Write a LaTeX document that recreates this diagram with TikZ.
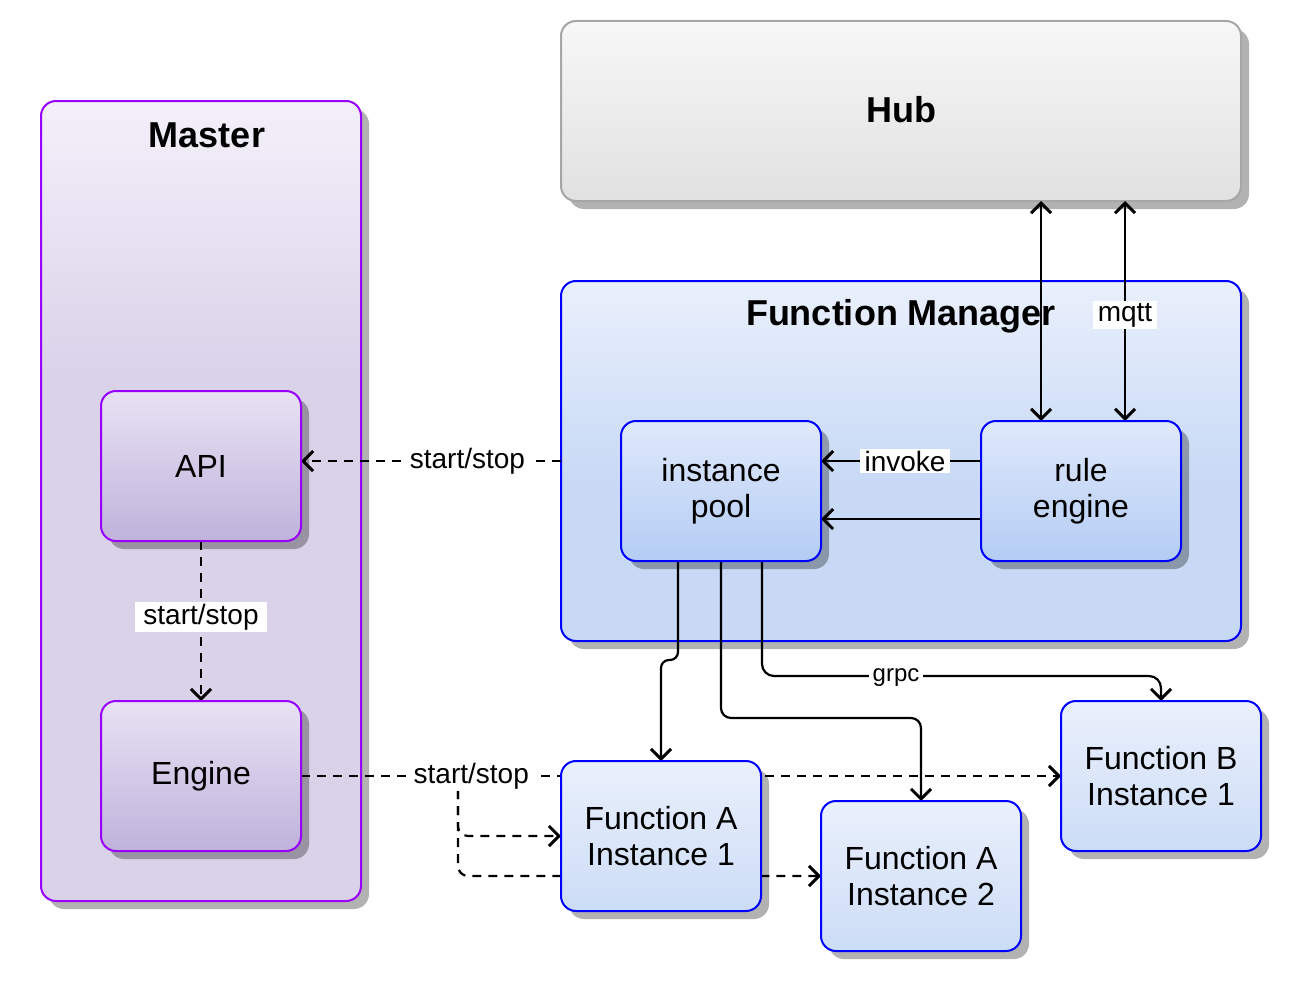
\documentclass[tikz,border=0pt]{standalone}
\usepackage{fontspec}
\setmainfont{Liberation Sans}
\usetikzlibrary{arrows.meta,shadows,calc}
\pgfdeclarelayer{bg}
\pgfdeclarelayer{edges}
\pgfsetlayers{bg,edges,main}
\definecolor{mpurple}{HTML}{9900FF}
\definecolor{mtop}{HTML}{F3F0FA}
\definecolor{mbot}{HTML}{DAD2E9}
\definecolor{atop}{HTML}{E8E2F4}
\definecolor{abot}{HTML}{C0B2DB}
\definecolor{mblue}{HTML}{0000FF}
\definecolor{ftop}{HTML}{EAF0FC}
\definecolor{fbot}{HTML}{C7D9F5}
\definecolor{ptop}{HTML}{DFE9FB}
\definecolor{pbot}{HTML}{B4CCF4}
\definecolor{itop}{HTML}{EAF0FC}
\definecolor{ibot}{HTML}{CCDCF6}
\definecolor{hgray}{HTML}{A6A6A6}
\definecolor{htop}{HTML}{F7F7F7}
\definecolor{hbot}{HTML}{E1E1E1}
\pgfdeclareverticalshading{mastershade}{100bp}{color(0bp)=(mbot); color(58bp)=(mbot); color(75bp)=(mtop); color(100bp)=(mtop)}
\pgfdeclareverticalshading{fmshade}{100bp}{color(0bp)=(fbot); color(47bp)=(fbot); color(75bp)=(ftop); color(100bp)=(ftop)}
\begin{document}
\begin{tikzpicture}[x=1pt,y=-1pt,
  box/.style={draw, line width=2pt, rounded corners=15pt, inner sep=0pt, outer sep=0pt,
    align=center, font=\fontsize{32}{36}\selectfont,
    drop shadow={shadow xshift=8pt, shadow yshift=-8pt, opacity=0.3, fill=black}},
  purplebox/.style={box, draw=mpurple, top color=atop, bottom color=abot, minimum width=200pt, minimum height=150pt},
  poolbox/.style={box, draw=mblue, top color=ptop, bottom color=pbot, minimum width=200pt, minimum height=140pt},
  instbox/.style={box, draw=mblue, top color=itop, bottom color=ibot, minimum width=200pt, minimum height=150pt},
  title/.style={font=\bfseries\fontsize{36}{42}\selectfont, inner sep=0pt},
  edge/.style={line width=2.2pt, draw=black, >={Straight Barb[length=10pt,width=20pt,line width=3pt]}},
  dedge/.style={edge, dash pattern=on 9pt off 7pt},
  lab/.style={fill=white, inner xsep=8pt, inner ysep=2pt, font=\fontsize{28}{32}\selectfont},
  slab/.style={fill=white, inner xsep=4pt, inner ysep=2pt, font=\fontsize{24}{28}\selectfont}
]
\useasboundingbox (0,0) rectangle (1312,990);

\begin{pgfonlayer}{bg}
  \node[box, draw=mpurple, shading=mastershade, minimum width=320pt, minimum height=800pt] (master) at (201,501) {};
  \node[box, draw=hgray, top color=htop, bottom color=hbot, minimum width=680pt, minimum height=180pt] (hub) at (901,111) {};
  \node[box, draw=mblue, shading=fmshade, minimum width=680pt, minimum height=360pt] (fm) at (901,461) {};
\end{pgfonlayer}

\node[title] (mastertitle) at (207,135) {Master};
\node[title] (hubtitle) at (901,110) {Hub};
\node[title] (fmtitle) at (901,316) {Function Manager};

\node[purplebox] (api) at (201,466) {API};
\node[purplebox] (eng) at (201,776) {Engine};
\node[poolbox] (pool) at (721,491) {instance\\pool};
\node[poolbox] (re) at (1081,491) {rule\\engine};
\node[instbox] (fa1) at (661,836) {Function A\\Instance 1};
\node[instbox] (fa2) at (921,876) {Function A\\Instance 2};
\node[instbox] (fb) at (1161,776) {Function B\\Instance 1};

\coordinate (br) at (458,790);

\begin{pgfonlayer}{edges}
  % start/stop from function manager to API
  \draw[dedge,->] (fm.west) -- (fm.west -| api.east)
    node[lab, pos=0.36] {start/stop};
  % API to Engine
  \draw[dedge,->] (api.south) -- (eng.north)
    node[lab, midway, yshift=4pt] {start/stop};
  % branches from engine edge
  \draw[dedge,->,rounded corners=10pt] (br) |- (fa1.west);
  \draw[dedge,->,rounded corners=10pt] (br) |- (fa2.west);
  % Engine to Function B
  \draw[dedge,->] (eng.east) -- (fb.west)
    node[lab, pos=0.224] {start/stop};
  % pool to instances
  \draw[edge,->,rounded corners=8pt] ([xshift=-43pt]pool.south) |- ([yshift=101pt]fa1.north) -- (fa1.north);
  \draw[edge,->,rounded corners=10pt] (pool.south) |- ([yshift=83pt]fa2.north) -- (fa2.north);
  \draw[edge,->,rounded corners=12pt] ([xshift=41pt]pool.south) |- ([yshift=25pt]fb.north) -- (fb.north);
  \node[slab] (grpc) at (896,678) {grpc};
  % rule engine to pool
  \draw[edge,->] ([yshift=30pt]re.west) -- ([yshift=30pt]pool.east)
    node[lab, inner xsep=5pt, pos=0.475] {invoke};
  \draw[edge,->] ([yshift=-28pt]re.west) -- ([yshift=-28pt]pool.east);
  % hub to rule engine
  \draw[edge,<->] ([xshift=140pt]hub.south) -- ([xshift=-40pt]re.north);
  \draw[edge,<->] ([xshift=224pt]hub.south) -- ([xshift=44pt]re.north)
    node[lab, inner xsep=5pt, pos=0.52] {mqtt};
\end{pgfonlayer}
\end{tikzpicture}
\end{document}
